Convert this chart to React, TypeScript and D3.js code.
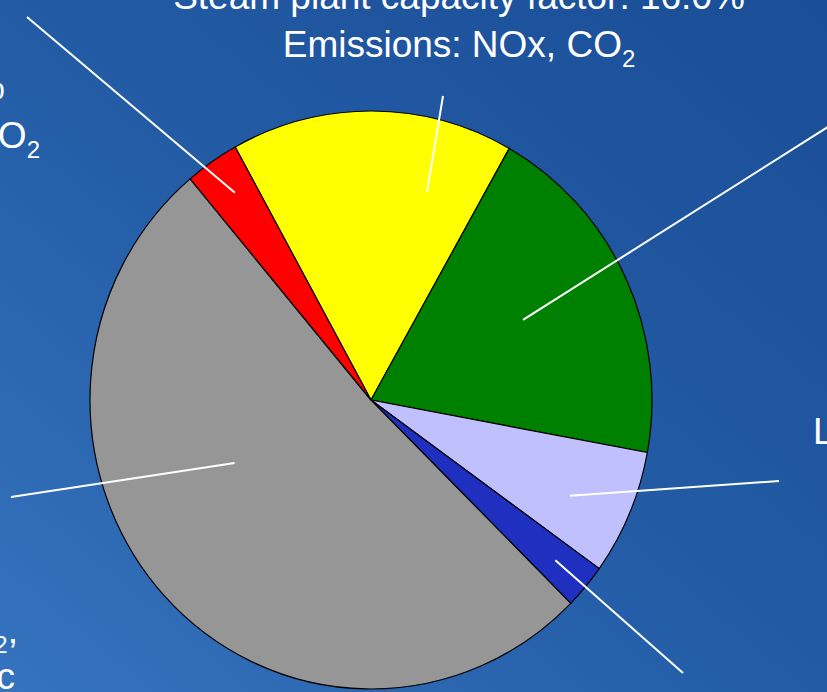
import React from "react";
import * as d3 from "d3";

// ---- data ----
const CATEGORIES = ["Natural gas", "Nuclear", "Hydro", "Other renewables", "Coal", "Oil"];
const SHARES = [16.2, 19.7, 7.0, 2.5, 51.4, 3.1];
const COLORS = ["#ffff00", "#008000", "#c0c0ff", "#1f2fbf", "#969696", "#ff0000"];

// label text lines ({n} = subscript)
const LABEL_LINES: string[][] = [
  ["Steam plant capacity factor: 16.0%", "Emissions: NOx, CO{2}"],
  ["Nuclear: 19.7%"],
  ["Large hydro: 7.0%"],
  ["Other renewables: 2.5%"],
  ["Emissions: SO{2}, NOx, CO{2},", "particulates, mercury, arsenic"],
  ["Capacity factor: 29.5%", "Emissions: SO{2}, NOx, CO{2}"],
];

// ---- layout / annotation placement ----
const W = 827;
const H = 692;
const CX = 371;
const CY = 400;
const R = 281;
const Y_STRETCH = 1.0285;
const START_DEG = -28.9;
const FONT = "'Liberation Sans', Arial, Helvetica, sans-serif";
const FS = 37;
const SUB_FS = 24;

// leader: position along slice (t), radius fraction, outer end point
const LEADERS = [
  { t: 0.76, rf: 0.747, ox: 443, oy: 96 },
  { t: 0.47, rf: 0.608, ox: 880, oy: 94 },
  { t: 0.58, rf: 0.782, ox: 779, oy: 481 },
  { t: 0.5, rf: 0.859, ox: 683, oy: 673 },
  { t: 0.6, rf: 0.532, ox: 11, oy: 497 },
  { t: 0.54, rf: 0.865, ox: 27, oy: 17 },
];

// label placement: anchor, x per line, baseline y per line
const LABEL_POS = [
  { anchor: "middle", xs: [459, 459], ys: [9, 57] },
  { anchor: "start", xs: [900], ys: [90] },
  { anchor: "start", xs: [813], ys: [444] },
  { anchor: "middle", xs: [700], ys: [730] },
  { anchor: "end", xs: [18, 15], ys: [643, 689] },
  { anchor: "end", xs: [5, 40], ys: [99, 148] },
];

function renderLine(s: string, key: string, x: number, y: number, anchor: string) {
  const parts = s.split(/(\{\d\})/).filter((p) => p.length > 0);
  const nodes: React.ReactNode[] = [];
  let shifted = false;
  parts.forEach((p, i) => {
    const m = p.match(/^\{(\d)\}$/);
    if (m) {
      nodes.push(
        <tspan key={i} fontSize={SUB_FS} dy={10}>
          {m[1]}
        </tspan>
      );
      shifted = true;
    } else {
      nodes.push(
        <tspan key={i} dy={shifted ? -10 : undefined}>
          {p}
        </tspan>
      );
      shifted = false;
    }
  });
  return (
    <text
      key={key}
      x={x}
      y={y}
      textAnchor={anchor as any}
      fontFamily={FONT}
      fontSize={FS}
      fill="#ffffff"
    >
      {nodes}
    </text>
  );
}

export default function App() {
  const start = (START_DEG * Math.PI) / 180;
  const pie = d3
    .pie<number>()
    .sort(null)
    .value((d) => d)
    .startAngle(start)
    .endAngle(start + 2 * Math.PI);
  const arcs = pie(SHARES);
  const arcGen = d3.arc<d3.PieArcDatum<number>>().innerRadius(0).outerRadius(R);

  return (
    <svg
      width={W}
      height={H}
      style={{ position: "fixed", left: 0, top: 0, display: "block" }}
    >
      <defs>
        <linearGradient id="bg" x1="1" y1="0" x2="0" y2="1">
          <stop offset="0" stopColor="#1a4e97" />
          <stop offset="0.5" stopColor="#235ba5" />
          <stop offset="1" stopColor="#3673be" />
        </linearGradient>
      </defs>
      <rect x={0} y={0} width={W} height={H} fill="url(#bg)" />
      <g transform={`translate(${CX},${CY}) scale(1,${Y_STRETCH})`}>
        {arcs.map((a, i) => (
          <path
            key={CATEGORIES[i]}
            d={arcGen(a) || ""}
            fill={COLORS[i]}
            stroke="#000"
            strokeWidth={1.2}
            vectorEffect="non-scaling-stroke"
          />
        ))}
      </g>
      {arcs.map((a, i) => {
        const L = LEADERS[i];
        const ang = a.startAngle + L.t * (a.endAngle - a.startAngle);
        const ix = CX + L.rf * R * Math.sin(ang);
        const iy = CY - L.rf * R * Math.cos(ang) * Y_STRETCH;
        return (
          <line
            key={"l" + i}
            x1={ix}
            y1={iy}
            x2={L.ox}
            y2={L.oy}
            stroke="#ffffff"
            strokeWidth={2}
          />
        );
      })}
      {LABEL_LINES.map((lines, i) => {
        const pos = LABEL_POS[i];
        return (
          <g key={"t" + i}>
            {lines.map((ln, j) => renderLine(ln, `${i}-${j}`, pos.xs[j], pos.ys[j], pos.anchor))}
          </g>
        );
      })}
    </svg>
  );
}
